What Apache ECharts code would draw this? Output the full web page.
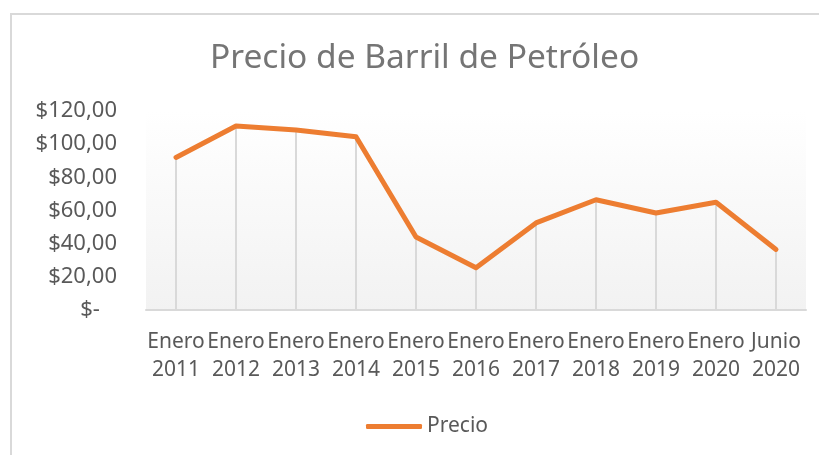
<!DOCTYPE html>
<html>
<head>
<meta charset="utf-8">
<script src="https://cdn.jsdelivr.net/npm/echarts@6/dist/echarts.min.js"></script>
<style>
  html, body { margin: 0; padding: 0; background: #fff; }
  #chart { width: 819px; height: 455px; }
</style>
</head>
<body>
<div id="chart"></div>
<script>
const MONTHS = ["Enero", "Enero", "Enero", "Enero", "Enero", "Enero", "Enero", "Enero", "Enero", "Enero", "Junio"];
const YEARS = ["2011", "2012", "2013", "2014", "2015", "2016", "2017", "2018", "2019", "2020", "2020"];
const PRECIO = [92, 111, 108.5, 104.5, 44, 25.5, 52.5, 66.5, 58.5, 65, 36.5];
const Y_TICKS = { min: 0, max: 120, interval: 20 };

const FONT = "'Noto Sans', sans-serif";
const ORANGE = "#ed7d31";
const GREY = "#d9d9d9";

const categories = MONTHS.map((m, i) => `${m}\n${YEARS[i]}`);
const money = (v) => v === 0 ? "$-   " : "$" + v.toFixed(2).replace(".", ",");

const chart = echarts.init(document.getElementById("chart"));
chart.setOption({
  animation: false,
  textStyle: { fontFamily: FONT },
  title: {
    text: "Precio de Barril de Petróleo",
    left: 205,
    top: 36,
    textStyle: { color: "#757575", fontSize: 33.5, fontWeight: "normal", fontFamily: FONT }
  },
  graphic: [{
    type: "rect",
    silent: true,
    shape: { x: 11, y: 14, width: 830, height: 470 },
    style: { fill: "none", stroke: GREY, lineWidth: 2 }
  }],
  legend: {
    left: 361,
    top: 411,
    icon: "roundRect",
    itemWidth: 56,
    itemHeight: 5,
    itemGap: 4,
    textStyle: { color: "#595959", fontSize: 21, fontFamily: FONT },
    data: ["Precio"]
  },
  grid: {
    left: 146, right: 13, top: 111, bottom: 145,
    show: true,
    borderWidth: 0,
    backgroundColor: new echarts.graphic.LinearGradient(0, 0, 0, 1, [
      { offset: 0, color: "#ffffff" },
      { offset: 1, color: "#f2f2f2" }
    ])
  },
  xAxis: {
    type: "category",
    data: categories,
    boundaryGap: true,
    axisTick: { show: false },
    axisLine: { lineStyle: { color: GREY, width: 2 } },
    axisLabel: {
      interval: 0,
      margin: 18,
      color: "#595959",
      fontSize: 21,
      lineHeight: 28,
      fontFamily: FONT
    }
  },
  yAxis: {
    type: "value",
    min: Y_TICKS.min,
    max: Y_TICKS.max,
    interval: Y_TICKS.interval,
    axisLine: { show: false },
    axisTick: { show: false },
    splitLine: { show: false },
    axisLabel: {
      margin: 29,
      color: "#595959",
      fontSize: 22,
      fontFamily: FONT,
      formatter: money
    }
  },
  series: [
    {
      name: "drop",
      type: "bar",
      data: PRECIO,
      barWidth: 2,
      silent: true,
      itemStyle: { color: GREY },
      z: 1
    },
    {
      name: "Precio",
      type: "line",
      data: PRECIO,
      symbol: "none",
      lineStyle: { color: ORANGE, width: 5, cap: "round", join: "round" },
      itemStyle: { color: ORANGE },
      z: 3
    }
  ]
});
</script>
</body>
</html>
